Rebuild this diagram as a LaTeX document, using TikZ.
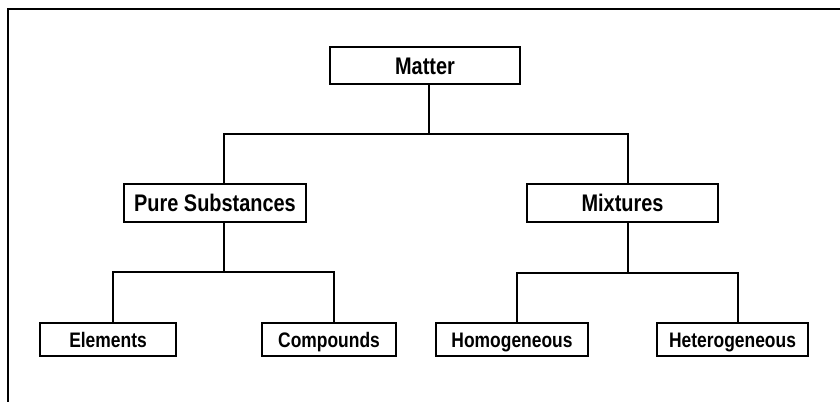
\documentclass[tikz,border=0pt]{standalone}
\usepackage{fontspec}
\setmainfont{Liberation Sans}[FakeStretch=0.83]
\begin{document}
\begin{tikzpicture}[x=1pt,y=-1pt,
  box/.style={draw=black,line width=1.4pt,fill=white,inner sep=0pt,anchor=center,
    text height=17pt,text depth=0pt,font=\bfseries\fontsize{24}{26}\selectfont},
  leaf/.style={box,minimum height=33pt,text height=15pt,text depth=0pt,font=\bfseries\fontsize{21}{23}\selectfont},
  conn/.style={draw=black,line width=1.3pt}]
\useasboundingbox (0,0) rectangle (840,402);
\fill[white] (0,0) rectangle (840,402);
\draw[line width=2pt] (840,9) -- (8,9) -- (8,402);
% nodes
\node[box,minimum width=190pt,minimum height=37pt] (m) at (425,65.5) {Matter};
\node[box,minimum width=182pt,minimum height=38pt] (ps) at (215,203) {Pure Substances};
\node[box,minimum width=191pt,minimum height=38pt] (mx) at (622.5,203) {Mixtures};
\node[leaf,minimum width=136pt] (el) at (108,339.5) {Elements};
\node[leaf,minimum width=134pt] (co) at (329,339.5) {Compounds};
\node[leaf,minimum width=152pt] (ho) at (512,339.5) {Homogeneous};
\node[leaf,minimum width=151pt] (he) at (732.5,339.5) {Heterogeneous};
% junctions
\coordinate (j1) at (429,134);
\coordinate (jL) at (224,134);
\coordinate (jR) at (628,134);
\coordinate (kL) at (224,272);
\coordinate (kR) at (628,273);
\coordinate (eL) at (113,272);
\coordinate (cL) at (334,272);
\coordinate (hL) at (517,273);
\coordinate (tR) at (738,273);
% connectors
\draw[conn] (j1 |- m.south) -- (j1);
\draw[conn] (jL |- ps.north) -- (jL) -- (jR) -- (jR |- mx.north);
\draw[conn] (kL |- ps.south) -- (kL);
\draw[conn] (eL |- el.north) -- (eL) -- (cL) -- (cL |- co.north);
\draw[conn] (kR |- mx.south) -- (kR);
\draw[conn] (hL |- ho.north) -- (hL) -- (tR) -- (tR |- he.north);
\end{tikzpicture}
\end{document}
